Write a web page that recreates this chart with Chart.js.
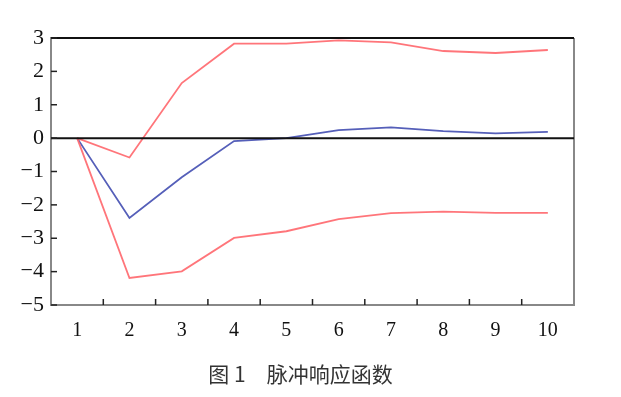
<!DOCTYPE html>
<html>
<head>
<meta charset="utf-8">
<script src="https://cdn.jsdelivr.net/npm/chart.js@4"></script>
<style>
  html, body { margin: 0; padding: 0; background: #fff; }
  #wrap { position: relative; width: 621px; height: 397px; }
  #caption {
    position: absolute; left: -20px; width: 641px; top: 358px;
    text-align: center; font-family: "Noto Sans CJK SC", sans-serif;
    font-size: 21px; line-height: 30px; color: #333; white-space: pre;
  }
</style>
</head>
<body>
<div id="wrap">
  <canvas id="chart" width="621" height="397"></canvas>
  <div id="caption">图 1　脉冲响应函数</div>
</div>
<script>
// データ
const periods = ['1', '2', '3', '4', '5', '6', '7', '8', '9', '10'];
const response = [0, -2.39, -1.17, -0.09, 0.0, 0.24, 0.32, 0.21, 0.14, 0.19];
const upperBand = [0, -0.58, 1.65, 2.83, 2.83, 2.93, 2.87, 2.61, 2.55, 2.64];
const lowerBand = [0, -4.19, -3.99, -2.99, -2.79, -2.43, -2.25, -2.2, -2.24, -2.24];
const yMin = -5;
const yMax = 3;

const redColor = 'rgba(255, 110, 115, 0.95)';
const blueColor = 'rgb(85, 95, 185)';

// 枠線と内向きの目盛りを描く
const framePlugin = {
    id: 'frame',
    afterDatasetsDraw(chart) {
        const ctx = chart.ctx;
        const area = chart.chartArea;
        const x = chart.scales.x;
        const y = chart.scales.y;
        ctx.save();
        // 右の枠
        ctx.strokeStyle = '#888';
        ctx.lineWidth = 2;
        ctx.beginPath();
        ctx.moveTo(area.right, area.top);
        ctx.lineTo(area.right, area.bottom);
        ctx.stroke();
        // 上の線とゼロ線
        ctx.strokeStyle = '#111';
        ctx.lineWidth = 2;
        [yMax, 0].forEach(v => {
            const py = y.getPixelForValue(v);
            ctx.beginPath();
            ctx.moveTo(area.left, py);
            ctx.lineTo(area.right, py);
            ctx.stroke();
        });
        // y軸の目盛り
        ctx.strokeStyle = '#222';
        ctx.lineWidth = 1.5;
        y.ticks.forEach(t => {
            const py = y.getPixelForValue(t.value);
            ctx.beginPath();
            ctx.moveTo(area.left, py);
            ctx.lineTo(area.left + 6, py);
            ctx.stroke();
        });
        // x軸の目盛り（カテゴリの境界）
        for (let i = 1; i < periods.length; i++) {
            const px = (x.getPixelForValue(i - 1) + x.getPixelForValue(i)) / 2;
            ctx.beginPath();
            ctx.moveTo(px, area.bottom);
            ctx.lineTo(px, area.bottom - 6);
            ctx.stroke();
        }
        ctx.restore();
    }
};

const lineStyle = {
    fill: false,
    tension: 0,
    borderWidth: 1.8,
    pointRadius: 0
};

new Chart(document.getElementById('chart').getContext('2d'), {
    type: 'line',
    data: {
        labels: periods,
        datasets: [
            { ...lineStyle, label: 'upper', data: upperBand, borderColor: redColor },
            { ...lineStyle, label: 'lower', data: lowerBand, borderColor: redColor },
            { ...lineStyle, label: 'response', data: response, borderColor: blueColor }
        ]
    },
    options: {
        responsive: false,
        animation: false,
        layout: { padding: { top: 38, right: 47, left: 0, bottom: 0 } },
        plugins: {
            legend: { display: false },
            tooltip: { enabled: false }
        },
        scales: {
            x: {
                offset: true,
                grid: { display: false, drawTicks: false },
                border: { display: true, color: '#888', width: 2 },
                ticks: {
                    color: '#111',
                    padding: 14,
                    maxRotation: 0,
                    font: { family: '"Liberation Serif", serif', size: 20 }
                },
                afterFit(scale) { scale.height = 92; }
            },
            y: {
                min: yMin,
                max: yMax,
                grid: { display: false, drawTicks: false },
                border: { display: true, color: '#888', width: 2 },
                ticks: {
                    stepSize: 1,
                    color: '#111',
                    padding: 7,
                    font: { family: '"Liberation Serif", serif', size: 22 },
                    callback: v => v < 0 ? '\u2212' + Math.abs(v) : String(v)
                },
                afterFit(scale) { scale.width = 51; }
            }
        }
    },
    plugins: [framePlugin]
});
</script>
</body>
</html>
